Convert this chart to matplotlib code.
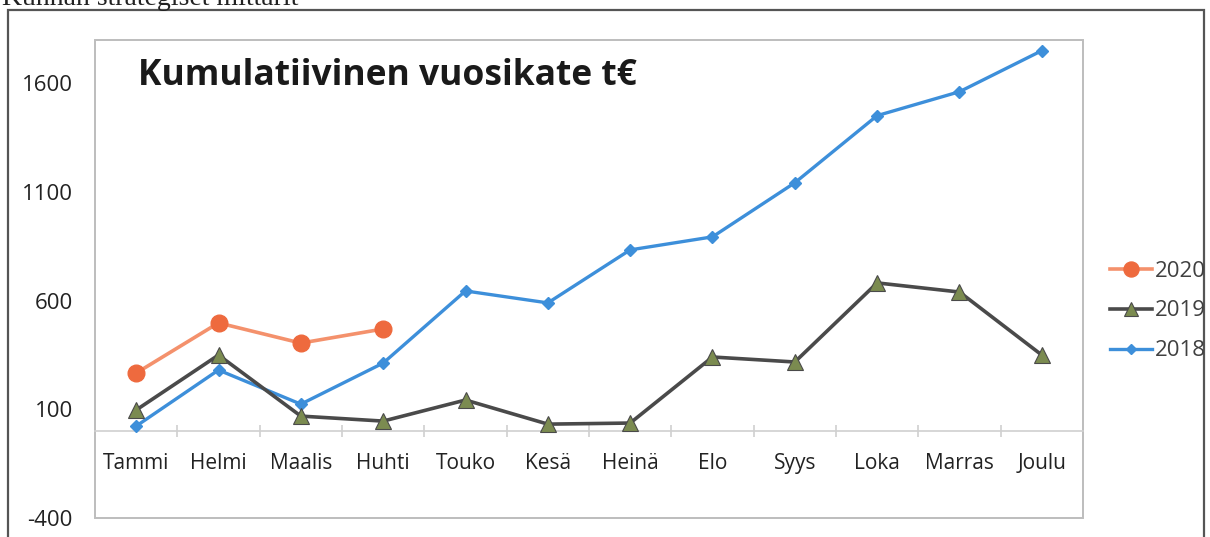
import matplotlib.pyplot as plt
from matplotlib.patches import Rectangle

plt.rcParams['font.family'] = ['Open Sans', 'DejaVu Sans']
plt.rcParams['axes.unicode_minus'] = False

months = ['Tammi', 'Helmi', 'Maalis', 'Huhti', 'Touko', 'Kesä',
          'Heinä', 'Elo', 'Syys', 'Loka', 'Marras', 'Joulu']
v2020 = [267, 498, 405, 470]
v2019 = [97, 350, 69, 46, 143, 32, 37, 341, 318, 682, 640, 350]
v2018 = [23, 281, 124, 313, 645, 590, 834, 894, 1143, 1452, 1562, 1751]
yticks = [-400, 100, 600, 1100, 1600]


def main():
    fig = plt.figure(figsize=(12.1, 5.37), dpi=100)

    # cut-off heading of the scanned page and the chart frame
    fig.text(0.002, 1 - 5 / 537, 'Kunnan strategiset mittarit', fontsize=20,
             family='Liberation Serif', va='baseline', color='#222222')
    fig.patches.append(Rectangle((8 / 1210, -0.05), 1196 / 1210, 1.05 - 10 / 537,
                                 transform=fig.transFigure, fill=False,
                                 edgecolor='#555555', linewidth=1.6))

    ax = fig.add_axes([95 / 1210, 19 / 537, 988 / 1210, 478 / 537])
    x = list(range(len(months)))

    ax.plot(x, v2018, color='#3D8FDA', lw=2.4, marker='D', ms=6,
            mfc='#3D8FDA', mec='#3D8FDA', label='2018', zorder=3)
    ax.plot(x, v2019, color='#4A4A4A', lw=2.6, marker='^', ms=11,
            mfc='#7B8B50', mec='#4A4A4A', mew=0.8, label='2019', zorder=4)
    ax.plot(x[:len(v2020)], v2020, color='#F4916C', lw=2.6, marker='o', ms=12,
            mfc='#EE6A3E', mec='#EE6A3E', label='2020', zorder=5)

    ax.set_xlim(-0.5, len(months) - 0.5)
    ax.set_ylim(-400, 1800)
    ax.set_yticks(yticks)
    ax.tick_params(axis='y', length=0, pad=16, labelsize=16, labelcolor='#222222')

    # category axis crossing at zero, tick marks between categories
    for s in ['left', 'right', 'top']:
        ax.spines[s].set_visible(False)
    ax.spines['bottom'].set_position(('data', 0))
    ax.spines['bottom'].set_color('#D0D0D0')
    ax.spines['bottom'].set_linewidth(1.2)
    ax.set_xticks([i + 0.5 for i in x[:-1]])
    ax.set_xticklabels([])
    ax.set_xticks(x, minor=True)
    ax.set_xticklabels(months, minor=True)
    ax.tick_params(axis='x', which='major', direction='inout', length=8,
                   color='#D0D0D0', width=1.2)
    ax.tick_params(axis='x', which='minor', length=0, pad=16, labelsize=15,
                   labelcolor='#222222')

    ax.add_patch(Rectangle((0, 0), 1, 1, transform=ax.transAxes, fill=False,
                           edgecolor='#BDBDBD', linewidth=1.4, clip_on=False))

    ax.text(0.044, 0.925, 'Kumulatiivinen vuosikate t€', transform=ax.transAxes,
            fontsize=25.5, fontweight='bold', color='#1A1A1A', va='center')

    h, l = ax.get_legend_handles_labels()
    fig.legend(h[::-1], l[::-1], loc='center left', bbox_to_anchor=(1090 / 1210, 0.421),
               frameon=False, fontsize=16, labelcolor='#404040', handlelength=1.9,
               handletextpad=0.1, labelspacing=0.85, borderpad=0.4, markerscale=0.9)

    fig.savefig('out.png', dpi=100)


if __name__ == "__main__":
    main()
